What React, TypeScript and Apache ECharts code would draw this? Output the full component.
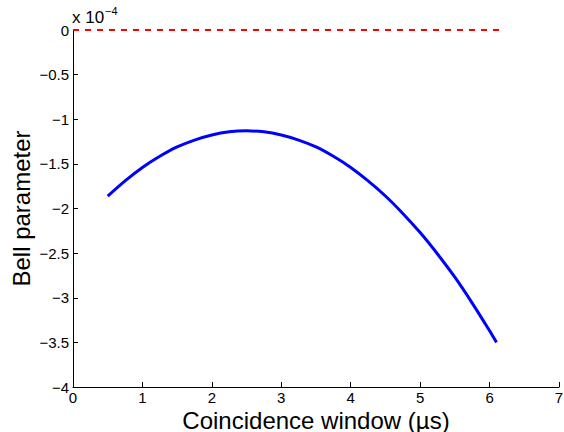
import React, { useEffect, useRef } from "react";
import * as echarts from "echarts";

const windowUs = [0.5, 0.75, 1.0, 1.25, 1.5, 1.75, 2.0, 2.25, 2.5, 2.75, 3.0, 3.25, 3.5, 3.75, 4.0, 4.25, 4.5, 4.75, 5.0, 5.25, 5.5, 5.75, 6.0, 6.1];
const bellValues = [-1.86, -1.69, -1.54, -1.415, -1.31, -1.233, -1.176, -1.141, -1.13, -1.141, -1.176, -1.233, -1.31, -1.415, -1.54, -1.69, -1.86, -2.055, -2.27, -2.51, -2.77, -3.06, -3.37, -3.5];
const boundX = [0, 6.2];
const boundY = [0, 0];
const xTicks = { min: 0, max: 7, interval: 1 };
const yTicks = { min: -4, max: 0, interval: 0.5 };
const xName = "Coincidence window (\u00b5s)";
const yName = "Bell parameter";
const scaleBase = "x 10";
const scaleExp = "\u22124";

const FONT = "'Liberation Sans', Arial, Helvetica, sans-serif";

const fmt = (v: number) => (v < 0 ? "\u2212" + String(Math.abs(v)) : String(v));

export default function App() {
  const ref = useRef<HTMLDivElement>(null);
  useEffect(() => {
    if (!ref.current) return;
    const chart = echarts.init(ref.current, null, { renderer: "svg" });
    chart.setOption({
      animation: false,
      backgroundColor: "#ffffff",
      grid: { left: 73, right: 5, top: 30, bottom: 45, containLabel: false, outerBoundsMode: "none" },
      xAxis: {
        type: "value",
        min: xTicks.min,
        max: xTicks.max,
        interval: xTicks.interval,
        name: xName,
        nameLocation: "middle",
        nameGap: 21,
        nameMoveOverlap: false,
        nameTextStyle: { fontFamily: FONT, fontSize: 24, color: "#000", lineHeight: 24, verticalAlign: "top" },
        axisLine: { show: true, onZero: false, lineStyle: { color: "#000", width: 1 } },
        axisTick: { show: true, inside: true, length: 5, lineStyle: { color: "#000" } },
        axisLabel: { fontFamily: FONT, fontSize: 15, color: "#000", margin: 3, formatter: fmt, showMinLabel: true, showMaxLabel: true, hideOverlap: false },
        splitLine: { show: false },
      },
      yAxis: {
        type: "value",
        min: yTicks.min,
        max: yTicks.max,
        interval: yTicks.interval,
        name: yName,
        nameLocation: "middle",
        nameGap: 40,
        nameMoveOverlap: false,
        nameRotate: 90,
        nameTextStyle: { fontFamily: FONT, fontSize: 24, color: "#000" },
        axisLine: { show: true, onZero: false, lineStyle: { color: "#000", width: 1 } },
        axisTick: { show: true, inside: true, length: 5, lineStyle: { color: "#000" } },
        axisLabel: { fontFamily: FONT, fontSize: 15, color: "#000", margin: 4, formatter: fmt, showMinLabel: true, showMaxLabel: true },
        splitLine: { show: false },
      },
      graphic: [
        {
          type: "text",
          left: 72,
          top: 9,
          style: { text: scaleBase, font: `17px ${FONT}`, fill: "#000" },
        },
        {
          type: "text",
          left: 105,
          top: 5,
          style: { text: scaleExp, font: `11px ${FONT}`, fill: "#000" },
        },
      ],
      series: [
        {
          type: "line",
          data: boundX.map((x, i) => [x, boundY[i]]),
          showSymbol: false,
          symbol: "none",
          lineStyle: { color: "#ff0000", width: 2, type: [6, 6] },
          z: 3,
        },
        {
          type: "line",
          data: windowUs.map((x, i) => [x, bellValues[i]]),
          showSymbol: false,
          symbol: "none",
          smooth: 0.2,
          lineStyle: { color: "#0000ff", width: 3 },
          z: 4,
        },
      ],
    });
    return () => chart.dispose();
  }, []);
  return <div ref={ref} style={{ position: "fixed", left: 0, top: 0, width: 564, height: 432 }} />;
}
